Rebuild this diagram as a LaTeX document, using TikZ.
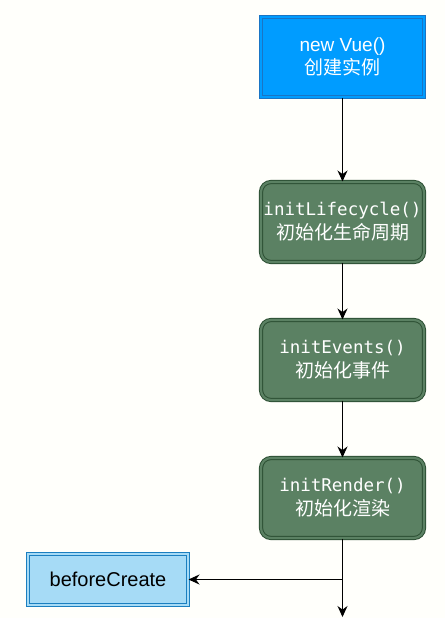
\documentclass[tikz,border=0pt]{standalone}
\usepackage{fontspec}
\setmainfont{Liberation Sans}
\setmonofont{DejaVu Sans Mono}
\newfontfamily\cjk{Noto Sans CJK SC}
\usetikzlibrary{arrows.meta,positioning}
\definecolor{vuec}{HTML}{009CFF}
\definecolor{vuebd}{HTML}{1A75C4}
\definecolor{initc}{HTML}{5B8163}
\definecolor{initbd}{HTML}{2C4F33}
\definecolor{hookc}{HTML}{A6DBF6}
\definecolor{hookbd}{HTML}{1B7FC0}
\definecolor{bgc}{HTML}{FFFFFB}
\tikzset{
  ar/.style={-{Stealth[length=11pt,width=10pt]},line width=1.2pt,black},
  dbl/.style={line width=1pt,double distance=2.2pt,align=center,inner sep=0pt},
  vbox/.style={dbl,draw=vuebd,double=vuec,fill=vuec,minimum width=163pt,minimum height=80pt,text=white,font=\fontsize{19}{23}\selectfont},
  ibox/.style={dbl,draw=initbd,double=initc,fill=initc,rounded corners=10pt,minimum width=163pt,minimum height=80pt,text=white,font=\fontsize{19}{24}\selectfont},
  hbox/.style={dbl,draw=hookbd,double=hookc,fill=hookc,minimum width=160pt,minimum height=51pt,text=black,font=\fontsize{20}{23}\selectfont}
}
\newcommand{\fn}[1]{{\ttfamily\fontsize{17.5}{24}\selectfont #1}}
\begin{document}
\begin{tikzpicture}[x=1pt,y=-1pt]
\fill[bgc] (0,0) rectangle (445,618);
\useasboundingbox (0,0) rectangle (445,618);
% creation steps
\node[vbox] (vue) at (342.5,57) {new Vue()\\{\cjk 创建实例}};
\node[ibox] (life) at (342.5,222) {\fn{initLifecycle()}\\{\cjk 初始化生命周期}};
\node[ibox] (events) at (342.5,360) {\fn{initEvents()}\\{\cjk 初始化事件}};
\node[ibox] (render) at (342.5,498) {\fn{initRender()}\\{\cjk 初始化渲染}};
\node[hbox] (before) at (108,579.5) {beforeCreate};
\coordinate (split) at (render |- before);
\coordinate (endp) at (342.5,617);
\draw[ar] (vue) -- (life);
\draw[ar] (life) -- (events);
\draw[ar] (events) -- (render);
\draw[ar] (render) -- (endp);
\draw[ar] (split) -- (before);
\end{tikzpicture}
\end{document}
